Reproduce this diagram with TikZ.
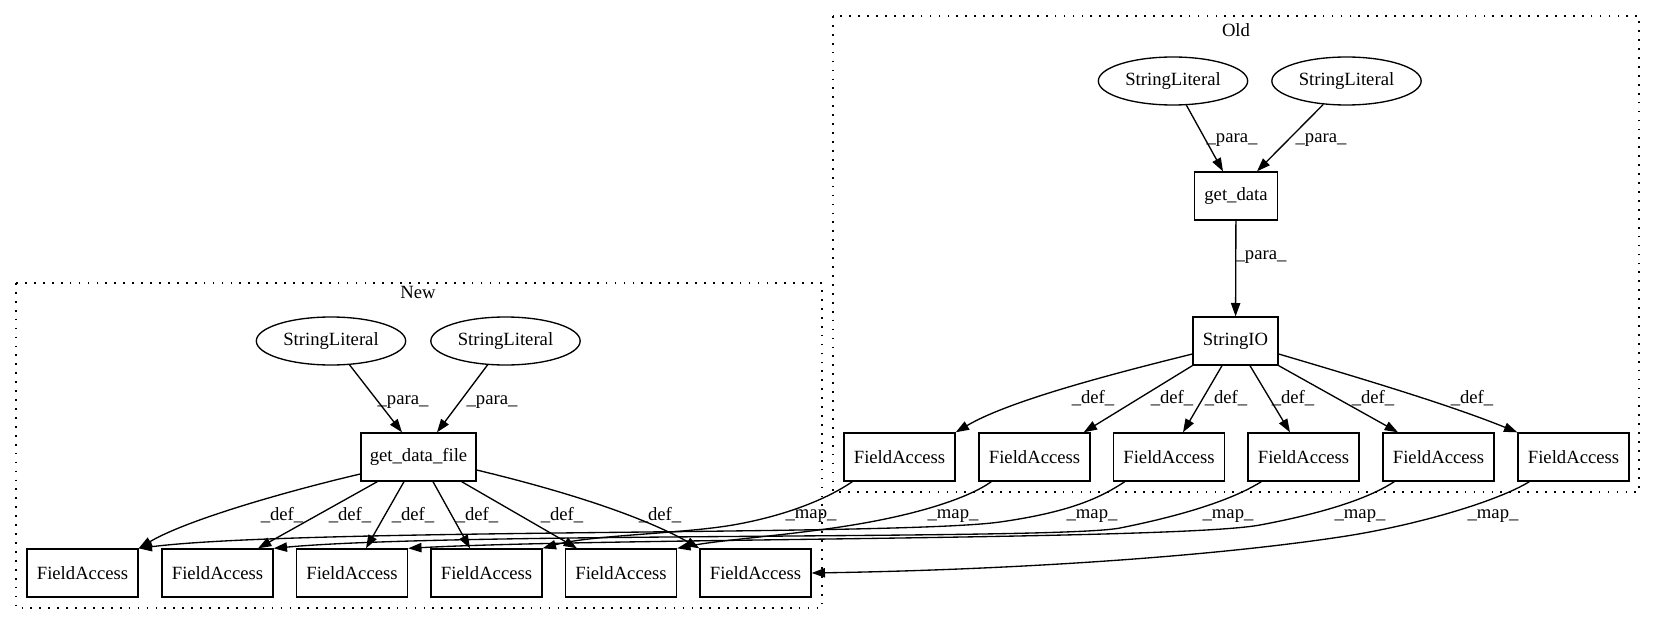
\documentclass[tikz,border=0pt]{standalone}
\usepackage{fontspec}
\setmainfont{Liberation Serif}
\usetikzlibrary{arrows.meta,shapes.geometric,calc}
\begin{document}
\begin{tikzpicture}[x=0.75pt,y=-0.75pt,
  font=\fontsize{14}{16}\selectfont,
  box/.style={draw, line width=1pt, rectangle, minimum height=36pt, inner sep=0pt},
  fa/.style={box, minimum width=83.25pt},
  lit/.style={draw, ellipse, line width=1pt, minimum width=112pt, minimum height=36pt, inner sep=0pt},
  edge/.style={draw, line width=1pt, -{Triangle[length=10pt,width=7pt]}},
  lbl/.style={inner sep=0pt},
  cluster/.style={draw, line width=1pt, dash pattern=on 1.3pt off 5.4pt}]
\useasboundingbox (0,0) rectangle (1656,624);
\fill[white] (0,0) rectangle (1656,624);

% clusters
\draw[cluster] (833,16) rectangle (1639,492);
\node[lbl] (oldlbl) at (1236,30) {Old};
\draw[cluster] (16,283) rectangle (822,608);
\node[lbl] (newlbl) at (418,292) {New};

% Old nodes
\node[lit] (osl1) at (1173,81) {StringLiteral};
\node[lit] (osl2) at (1346.5,81) {StringLiteral};
\node[box, minimum width=62.25pt] (ogd) at (1236,196) {get\_data};
\node[box, minimum width=63.75pt] (osio) at (1235.5,341) {StringIO};
\node[fa] (ofa1) at (899.5,457) {FieldAccess};
\node[fa] (ofa2) at (1034.5,457) {FieldAccess};
\node[fa] (ofa3) at (1169,457) {FieldAccess};
\node[fa] (ofa4) at (1303.5,457) {FieldAccess};
\node[fa] (ofa5) at (1438.5,457) {FieldAccess};
\node[fa] (ofa6) at (1573.5,457) {FieldAccess};

% New nodes
\node[lit] (nsl1) at (331,341) {StringLiteral};
\node[lit] (nsl2) at (505.5,341) {StringLiteral};
\node[box, minimum width=86.25pt] (ngdf) at (418.5,457) {get\_data\_file};
\node[fa] (nfa1) at (82.5,573) {FieldAccess};
\node[fa] (nfa2) at (217.5,573) {FieldAccess};
\node[fa] (nfa3) at (352,573) {FieldAccess};
\node[fa] (nfa4) at (486.5,573) {FieldAccess};
\node[fa] (nfa5) at (621,573) {FieldAccess};
\node[fa] (nfa6) at (755.5,573) {FieldAccess};

% Old para edges
\path[edge] (osl1) -- ($(ogd.north)+(-13,0)$);
\path[edge] (osl2) -- ($(ogd.north)+(21,0)$);
\path[edge] (ogd) -- (osio);
\node[lbl] (op1) at (1232,140) {\_para\_};
\node[lbl] (op2) at (1321,140) {\_para\_};
\node[lbl] (op3) at (1261,257) {\_para\_};

% Old def edges
\path[edge] ($(osio.west)+(0,13)$) .. controls (1120,372) and (1010,400) .. (ofa1.north east);
\path[edge] (osio.south west) -- ($(ofa2.north east)+(-7,0)$);
\path[edge] ($(osio.south)+(-13.5,0)$) -- ($(ofa3.north)+(14,0)$);
\path[edge] ($(osio.south)+(14.5,0)$) -- ($(ofa4.north)+(-13.5,0)$);
\path[edge] (osio.south east) -- ($(ofa5.north)+(-40.5,0)$);
\path[edge] ($(osio.east)+(0,13)$) .. controls (1360,378) and (1450,405) .. (ofa6.north west);
\node[lbl] (od1) at (1093,398) {\_def\_};
\node[lbl] (od2) at (1172,398) {\_def\_};
\node[lbl] (od3) at (1226,398) {\_def\_};
\node[lbl] (od4) at (1293,398) {\_def\_};
\node[lbl] (od5) at (1373,398) {\_def\_};
\node[lbl] (od6) at (1472,398) {\_def\_};

% New para edges
\path[edge] (nsl1) -- ($(ngdf.north)+(-16.5,0)$);
\path[edge] (nsl2) -- ($(ngdf.north)+(18.5,0)$);
\node[lbl] (np1) at (403,402) {\_para\_};
\node[lbl] (np2) at (492,402) {\_para\_};

% New def edges
\path[edge] ($(ngdf.west)+(0,17)$) .. controls (300,488) and (190,518) .. (nfa1.north east);
\path[edge] ($(ngdf.south west)+(17,0)$) -- ($(nfa2.north)+(40.5,0)$);
\path[edge] ($(ngdf.south)+(-14.5,0)$) -- ($(nfa3.north)+(14,0)$);
\path[edge] ($(ngdf.south)+(14.5,0)$) -- ($(nfa4.north)+(-16.5,0)$);
\path[edge] ($(ngdf.south east)+(-15,0)$) -- ($(nfa5.north)+(-44,0)$);
\path[edge] ($(ngdf.east)+(0,13)$) .. controls (560,490) and (640,515) .. (nfa6.north west);
\node[lbl] (nd1) at (282,515) {\_def\_};
\node[lbl] (nd2) at (350,515) {\_def\_};
\node[lbl] (nd3) at (413,515) {\_def\_};
\node[lbl] (nd4) at (477,515) {\_def\_};
\node[lbl] (nd5) at (562,515) {\_def\_};
\node[lbl] (nd6) at (660,515) {\_def\_};

% map edges
\path[edge] ($(ofa1.south west)+(9,0)$) .. controls (830,497) and (790,515) .. (733,525)
   .. controls (680,534) and (590,535) .. (nfa4.north east);
\path[edge] ($(ofa2.south west)+(13,0)$) .. controls (970,497) and (920,515) .. (840,527)
   .. controls (780,536) and (720,540) .. (nfa5.north east);
\path[edge] ($(ofa3.south west)+(12,0)$) .. controls (1100,498) and (1070,512) .. (1000,522)
   .. controls (900,536) and (300,528) .. (nfa1.north east);
\path[edge] ($(ofa4.south west)+(14,0)$) .. controls (1240,495) and (1200,512) .. (1120,528)
   .. controls (1060,540) and (450,532) .. (nfa2.north east);
\path[edge] ($(ofa5.south west)+(12,0)$) .. controls (1375,494) and (1340,510) .. (1260,525)
   .. controls (1180,540) and (600,538) .. (nfa3.north east);
\path[edge] ($(ofa6.south west)+(12,0)$) .. controls (1500,500) and (1420,525) .. (1340,537)
   .. controls (1200,558) and (1000,570) .. (nfa6.east);
\node[lbl] (m1) at (811,516) {\_map\_};
\node[lbl] (m2) at (953,516) {\_map\_};
\node[lbl] (m3) at (1092,516) {\_map\_};
\node[lbl] (m4) at (1228,516) {\_map\_};
\node[lbl] (m5) at (1360,516) {\_map\_};
\node[lbl] (m6) at (1493,516) {\_map\_};
\end{tikzpicture}
\end{document}
